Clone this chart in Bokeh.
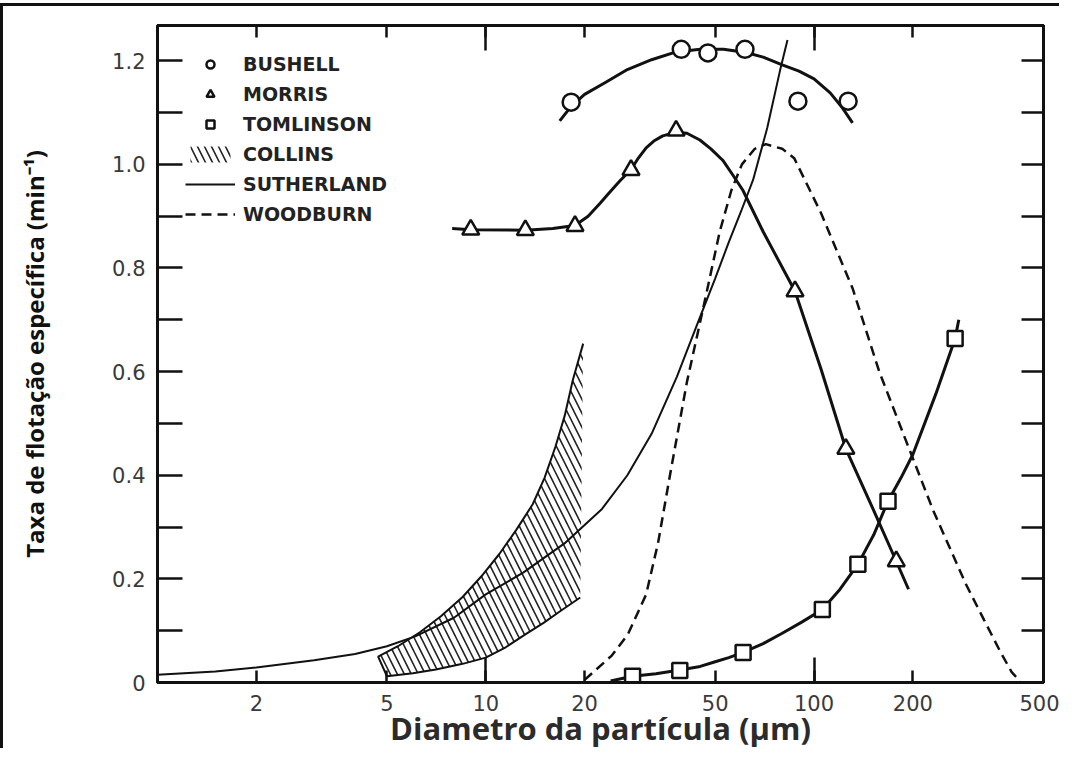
from bokeh.plotting import figure
from bokeh.models import (Range1d, FixedTicker, LinearAxis, LogAxis, Legend,
                          LegendItem, PrintfTickFormatter)
from bokeh.embed import file_html
from bokeh.resources import INLINE

# ---------------- data ----------------
x_ticks = [2, 5, 10, 20, 50, 100, 200, 500]
x_decade_ticks = [10, 100]
y_ticks = [0, 0.2, 0.4, 0.6, 0.8, 1.0, 1.2]
y_tick_labels = ["0", "0.2", "0.4", "0.6", "0.8", "1.0", "1.2"]
y_minor_ticks = [0.1, 0.3, 0.5, 0.7, 0.9, 1.1]
y_right_ticks = [0.1, 0.2, 0.3, 0.4, 0.5, 0.6, 0.7, 0.8, 0.9, 1.0, 1.1, 1.2]

x_title = "Diametro da partícula (µm)"
y_title = "Taxa de flotação específica (min⁻¹)"

bushell_x = [18.2, 39.4, 47.5, 61.6, 89.3, 127]
bushell_y = [1.12, 1.222, 1.215, 1.222, 1.122, 1.122]
bushell_fit_x = [16.8, 18.2, 20, 23, 27, 32, 38, 45, 53, 62, 70, 80, 90, 100, 112, 122, 131]
bushell_fit_y = [1.084, 1.112, 1.135, 1.157, 1.183, 1.202, 1.217, 1.222, 1.222, 1.216,
                 1.207, 1.192, 1.18, 1.165, 1.138, 1.109, 1.08]

morris_x = [9.0, 13.2, 18.7, 27.7, 38, 87.5, 125, 178]
morris_y = [0.874, 0.873, 0.881, 0.989, 1.065, 0.755, 0.451, 0.234]
morris_fit_x = [7.9, 9, 13.2, 16, 18.7, 20.5, 22.3, 24, 25.6, 27.7, 29, 30.8, 32.5, 34.6,
                38, 41, 44.9, 48.5, 52.7, 56.5, 60.7, 70, 87.5, 105, 125, 150, 178, 194]
morris_fit_y = [0.876, 0.874, 0.873, 0.876, 0.882, 0.9, 0.925, 0.948, 0.968, 0.99, 1.01,
                1.032, 1.045, 1.055, 1.062, 1.06, 1.047, 1.03, 1.008, 0.98, 0.95, 0.87,
                0.755, 0.605, 0.451, 0.34, 0.234, 0.18]

tomlinson_x = [28, 39, 60.8, 106, 136, 168, 269]
tomlinson_y = [0.012, 0.023, 0.058, 0.141, 0.228, 0.350, 0.664]
tomlinson_fit_x = [24, 28, 33, 39, 45, 50, 55, 60.8, 70, 80, 92, 106, 120, 136, 152, 168,
                   184, 200, 235, 269, 276]
tomlinson_fit_y = [0.003, 0.012, 0.017, 0.024, 0.031, 0.04, 0.048, 0.058, 0.075, 0.095,
                   0.117, 0.141, 0.18, 0.228, 0.285, 0.35, 0.395, 0.44, 0.557, 0.664, 0.70]

collins_upper_x = [4.7, 5.4, 6.3, 7.3, 8.5, 9.7, 11, 12.4, 13.9, 15.1, 16.3, 17.4, 18.4, 19.8]
collins_upper_y = [0.05, 0.07, 0.097, 0.128, 0.165, 0.205, 0.248, 0.295, 0.344, 0.395,
                   0.455, 0.515, 0.583, 0.654]
collins_lower_x = [5.0, 6.0, 7.05, 8.5, 10, 11.5, 13.2, 15, 16.8, 19.4]
collins_lower_y = [0.012, 0.018, 0.025, 0.036, 0.048, 0.068, 0.093, 0.115, 0.137, 0.164]

sutherland_x = [1, 1.5, 2, 3, 4, 5, 6.1, 8, 10, 13, 17.5, 22.6, 27, 32, 38.2, 44.3, 50, 55,
                60, 65.2, 72, 78.7, 83]
sutherland_y = [0.015, 0.021, 0.029, 0.043, 0.055, 0.07, 0.089, 0.125, 0.17, 0.212, 0.27,
                0.335, 0.40, 0.48, 0.59, 0.695, 0.78, 0.85, 0.91, 0.97, 1.07, 1.18, 1.24]

woodburn_x = [20, 24.2, 27.1, 30.8, 33.5, 36.4, 41, 46.6, 51.6, 56, 60.3, 66, 71.3, 80, 87,
              105, 131, 158, 187, 231, 290, 330, 369, 400, 425]
woodburn_y = [0.005, 0.052, 0.093, 0.17, 0.27, 0.40, 0.58, 0.74, 0.87, 0.95, 1.0, 1.03,
              1.039, 1.03, 1.012, 0.906, 0.761, 0.60, 0.48, 0.331, 0.19, 0.12, 0.06, 0.02, 0.002]

legend_labels = ["BUSHELL", "MORRIS", "TOMLINSON", "COLLINS", "SUTHERLAND", "WOODBURN"]

# ---------------- figure ----------------
INK = "#111111"

p = figure(width=1059, height=745, x_axis_type="log",
           x_range=Range1d(1, 500), y_range=Range1d(0, 1.268),
           output_backend="svg", toolbar_location=None,
           min_border_left=154, min_border_top=19, min_border_right=19,
           min_border_bottom=68, background_fill_color="white",
           border_fill_color="white")
p.styles = {"border-left": "3px solid #111", "border-top": "3px solid #111",
            "margin-top": "3px"}
p.grid.visible = False
p.outline_line_color = INK
p.outline_line_width = 3


def style_ticks(ax, tin, minor_in):
    ax.major_tick_in = tin
    ax.major_tick_out = 0
    ax.minor_tick_in = minor_in
    ax.minor_tick_out = 0
    ax.major_tick_line_width = 2.5
    ax.minor_tick_line_width = 2.5
    ax.axis_line_width = 3
    ax.axis_line_color = INK
    ax.major_tick_line_color = INK
    ax.minor_tick_line_color = INK


# bottom axis
xa = p.xaxis[0]
xa.ticker = FixedTicker(ticks=x_ticks, minor_ticks=x_decade_ticks)
xa.formatter = PrintfTickFormatter(format="%d")
style_ticks(xa, 12, 25)
xa.major_label_text_font = "DejaVu Sans"
xa.major_label_text_font_size = "21px"
xa.major_label_text_color = "#3a3a3a"
xa.major_label_standoff = 12
xa.axis_label = x_title
xa.axis_label_text_font = "Open Sans"
xa.axis_label_text_font_style = "bold"
xa.axis_label_text_font_size = "31px"
xa.axis_label_text_color = "#2b2b2b"
xa.axis_label_standoff = -7

# left axis
ya = p.yaxis[0]
ya.ticker = FixedTicker(ticks=y_ticks, minor_ticks=y_minor_ticks)
ya.major_label_overrides = {t: s for t, s in zip(y_ticks, y_tick_labels)}
style_ticks(ya, 25, 25)
ya.major_label_text_font = "DejaVu Sans"
ya.major_label_text_font_size = "21px"
ya.major_label_text_color = "#3a3a3a"
ya.major_label_standoff = 12
ya.axis_label = y_title
ya.axis_label_text_font = "Open Sans"
ya.axis_label_text_font_style = "bold"
ya.axis_label_text_font_size = "24px"
ya.axis_label_text_color = "#111111"
ya.axis_label_standoff = 58

# top axis (ticks only)
top = LogAxis(ticker=FixedTicker(ticks=x_ticks, minor_ticks=x_decade_ticks),
              major_label_text_color=None, major_label_text_font_size="1px",
              major_label_standoff=0)
style_ticks(top, 12, 25)
p.add_layout(top, "above")

# right axis (ticks only)
right = LinearAxis(ticker=FixedTicker(ticks=y_right_ticks, minor_ticks=[]),
                   major_label_text_color=None, major_label_text_font_size="1px",
                   major_label_standoff=0)
style_ticks(right, 22, 0)
p.add_layout(right, "right")

# ---------------- glyphs ----------------
poly_x = collins_upper_x + collins_lower_x[::-1]
poly_y = collins_upper_y + collins_lower_y[::-1]
collins = p.patch(poly_x, poly_y, fill_color=None, line_color=None,
                  hatch_pattern="\\", hatch_color="#222222", hatch_weight=1.6,
                  hatch_scale=14)
edge_x = collins_upper_x[::-1] + collins_lower_x
edge_y = collins_upper_y[::-1] + collins_lower_y
p.line(edge_x, edge_y, line_color=INK, line_width=2)

suth = p.line(sutherland_x, sutherland_y, line_color=INK, line_width=2)
wood = p.line(woodburn_x, woodburn_y, line_color=INK, line_width=2.5, line_dash="10 6")

p.line(bushell_fit_x, bushell_fit_y, line_color=INK, line_width=3)
p.line(morris_fit_x, morris_fit_y, line_color=INK, line_width=3)
p.line(tomlinson_fit_x, tomlinson_fit_y, line_color=INK, line_width=3)

bush = p.scatter(bushell_x, bushell_y, marker="circle", size=17, fill_color="white",
                 line_color=INK, line_width=2.5)
morr = p.scatter(morris_x, morris_y, marker="triangle", size=17, fill_color="white",
                 line_color=INK, line_width=2.5)
toml = p.scatter(tomlinson_x, tomlinson_y, marker="square", size=15, fill_color="white",
                 line_color=INK, line_width=2.5)

renderers = [bush, morr, toml, collins, suth, wood]
legend = Legend(items=[LegendItem(label=l, renderers=[r]) for l, r in zip(legend_labels, renderers)],
                location="top_left", margin=22, padding=6, spacing=8,
                glyph_width=50, glyph_height=20, label_height=20, label_standoff=8,
                label_text_font="DejaVu Sans", label_text_font_style="bold",
                label_text_font_size="19px",
                label_text_color="#222222", background_fill_alpha=0,
                border_line_alpha=0)
p.add_layout(legend)

open("out.html", "w").write(file_html(p, INLINE))
